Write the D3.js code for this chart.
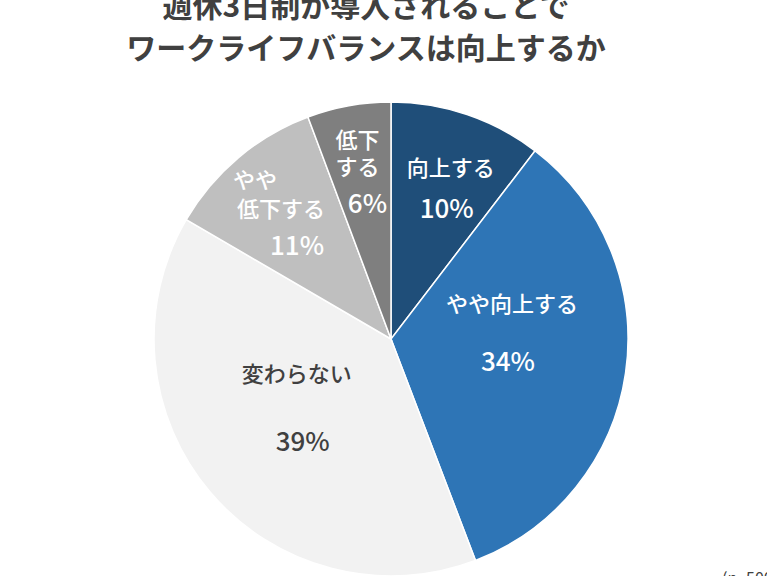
<!DOCTYPE html>
<html>
<head>
<meta charset="utf-8">
<script src="https://cdn.jsdelivr.net/npm/d3@7"></script>
<style>
  body { margin: 0; background: #fff; }
  text { font-family: "Noto Sans CJK JP", "Noto Sans", sans-serif; }
</style>
</head>
<body>
<div id="chart"></div>
<script>
// chart data
const titleLines = ["週休3日制が導入されることで", "ワークライフバランスは向上するか"];
const categories = ["向上する", "やや向上する", "変わらない", "やや低下する", "低下する"];
const values = [10.4, 33.8, 39.2, 10.9, 5.7];
const labelLines = [["向上する"], ["やや向上する"], ["変わらない"], ["やや", "低下する"], ["低下", "する"]];
const colors = ["#1f4e79", "#2e75b6", "#f2f2f2", "#bfbfbf", "#7f7f7f"];
const note = "(n=500)";

const width = 767, height = 576;
const cx = 391, cy = 339, radius = 237;

// label layout: anchor radius factor + per line offsets (last one is the %)
const labelLayout = [
    {r: 0.68, lines: [[8, -20], [4, 20]]},
    {r: 0.52, lines: [[-1, -55], [-5, 3]]},
    {r: 0.50, lines: [[-4, -44], [2, 24]]},
    {r: 0.70, lines: [[-29, -34], [-3, -5], [13, 31]]},
    {r: 0.70, lines: [[-4, -38], [-4, -11], [6, 26]]}
];

const svg = d3.select("#chart").append("svg")
    .attr("width", width)
    .attr("height", height);

// title
svg.append("g")
    .selectAll("text")
    .data(titleLines)
    .enter().append("text")
    .attr("x", 366)
    .attr("y", function(d, i) { return 17 + i * 42; })
    .attr("text-anchor", "middle")
    .attr("font-size", 30)
    .attr("font-weight", "bold")
    .attr("fill", "#404040")
    .text(function(d) { return d; });

const pie = d3.pie().sort(null).value(function(d) { return d; });
const arcs = pie(values);

const arc = d3.arc().innerRadius(0).outerRadius(radius);

const g = svg.append("g")
    .attr("transform", "translate(" + cx + "," + cy + ")");

g.selectAll("path")
    .data(arcs)
    .enter().append("path")
    .attr("d", arc)
    .attr("fill", function(d, i) { return colors[i]; })
    .attr("stroke", "#fff")
    .attr("stroke-width", 1.5);

// labels
arcs.forEach(function(d, i) {
    let lay = labelLayout[i];
    let mid = (d.startAngle + d.endAngle) / 2;
    let ax = Math.sin(mid) * radius * lay.r;
    let ay = -Math.cos(mid) * radius * lay.r;
    let txtColor = i == 2 ? "#404040" : "#ffffff";
    let lines = labelLines[i].concat([Math.round(values[i]) + "%"]);

    lines.forEach(function(t, j) {
        let isPct = j == lines.length - 1;
        g.append("text")
            .attr("x", ax + lay.lines[j][0])
            .attr("y", ay + lay.lines[j][1])
            .attr("text-anchor", "middle")
            .attr("dominant-baseline", "central")
            .attr("font-size", isPct ? 26 : 22)
            .attr("font-weight", 500)
            .attr("fill", txtColor)
            .text(t);
    });
});

// sample size note (cut off at bottom edge)
svg.append("text")
    .attr("x", 722)
    .attr("y", 584)
    .attr("font-size", 16)
    .attr("fill", "#404040")
    .text(note);
</script>
</body>
</html>
